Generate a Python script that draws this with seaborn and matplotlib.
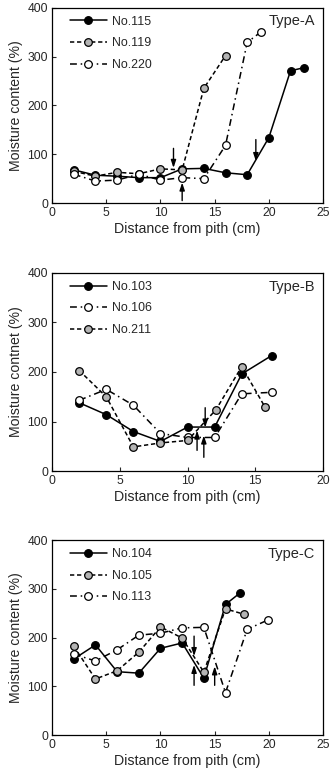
import numpy as np
import pandas as pd
import matplotlib
matplotlib.use("Agg")
import matplotlib.pyplot as plt
import seaborn as sns

# ---------------- data ----------------
# Type-A
a115_x = [2, 4, 6, 8, 10, 12, 14, 16, 18, 20, 22, 23.2]
a115_y = [68, 57, 55, 52, 52, 70, 71, 62, 58, 134, 271, 277]
a119_x = [2, 4, 6, 8, 10, 12, 14, 16]
a119_y = [65, 55, 63, 60, 70, 68, 235, 302]
a220_x = [2, 4, 6, 8, 10, 12, 14, 16, 18, 19.3]
a220_y = [59, 45, 47, 59, 47, 52, 50, 118, 329, 351]

# Type-B
b103_x = [2, 4, 6, 8, 10, 12, 14, 16.2]
b103_y = [138, 114, 80, 60, 89, 89, 196, 233]
b106_x = [2, 4, 6, 8, 10, 12, 14, 16.2]
b106_y = [143, 165, 133, 76, 68, 68, 156, 159]
b211_x = [2, 4, 6, 8, 10, 12.1, 14, 15.7]
b211_y = [203, 150, 49, 57, 62, 124, 211, 130]

# Type-C
c104_x = [2, 4, 6, 8, 10, 12, 14, 16, 17.3]
c104_y = [156, 185, 130, 127, 178, 189, 117, 268, 291]
c105_x = [2, 4, 6, 8, 10, 12, 14, 16, 17.7]
c105_y = [182, 115, 132, 170, 222, 199, 129, 259, 248]
c113_x = [2, 4, 6, 8, 10, 12, 14, 16, 18, 19.9]
c113_y = [166, 152, 175, 205, 209, 220, 221, 87, 217, 236]

# arrows: (x, y_start, y_end)
arrows_a = [(11.2, 112, 72), (12.0, 5, 42), (18.8, 130, 86)]
arrows_b = [(11.3, 128, 88), (10.7, 42, 82), (11.2, 28, 72)]
arrows_c = [(13.1, 203, 162), (13.1, 102, 144), (15.0, 102, 141)]

panels = [
    dict(label="Type-A", ylabel="Moisture content (%)", xmax=25,
         series=[("No.115", a115_x, a115_y, "solid", "black"),
                 ("No.119", a119_x, a119_y, "dash", "#b4b4b4"),
                 ("No.220", a220_x, a220_y, "dashdot", "white")],
         arrows=arrows_a, rect=[0.157, 0.738, 0.816, 0.252]),
    dict(label="Type-B", ylabel="Moisture contnet (%)", xmax=20,
         series=[("No.103", b103_x, b103_y, "solid", "black"),
                 ("No.106", b106_x, b106_y, "dashdot", "white"),
                 ("No.211", b211_x, b211_y, "dash", "#b4b4b4")],
         arrows=arrows_b, rect=[0.157, 0.392, 0.816, 0.256]),
    dict(label="Type-C", ylabel="Moisture content (%)", xmax=25,
         series=[("No.104", c104_x, c104_y, "solid", "black"),
                 ("No.105", c105_x, c105_y, "dash", "#b4b4b4"),
                 ("No.113", c113_x, c113_y, "dashdot", "white")],
         arrows=arrows_c, rect=[0.157, 0.0516, 0.816, 0.2514]),
]

sns.set_style("ticks")
plt.rcParams["font.family"] = ["Liberation Sans", "DejaVu Sans"]

dash_map = {"solid": (None, None), "dash": (0, (2.8, 1.8)), "dashdot": (0, (4.5, 2.5, 1.0, 2.5))}

fig = plt.figure(figsize=(3.32, 7.75), dpi=100)

for p in panels:
    ax = fig.add_axes(p["rect"])
    for name, xs, ys, ls, fc in p["series"]:
        df = pd.DataFrame({"x": xs, "y": ys})
        sns.lineplot(data=df, x="x", y="y", ax=ax, sort=False, color="black",
                     linewidth=1.1, marker="o", markersize=5.5,
                     markerfacecolor=fc, markeredgecolor="black",
                     markeredgewidth=0.9, legend=False)
        line = ax.lines[-1]
        line.set_label(name)
        if ls == "solid":
            line.set_linestyle("-")
        else:
            line.set_linestyle(dash_map[ls])
    for (x0, y0, y1) in p["arrows"]:
        ax.annotate("", xy=(x0, y1), xytext=(x0, y0),
                    arrowprops=dict(arrowstyle="-|>,head_length=0.45,head_width=0.15",
                                    color="black", lw=1.0, shrinkA=0, shrinkB=0))
    ax.set_xlim(0, p["xmax"])
    ax.set_ylim(0, 400)
    ax.set_xticks(np.arange(0, p["xmax"] + 1, 5))
    ax.set_yticks([0, 100, 200, 300, 400])
    ax.set_xlabel("Distance from pith (cm)", fontsize=10.2, labelpad=2)
    ax.set_ylabel(p["ylabel"], fontsize=10.2, labelpad=3)
    ax.tick_params(direction="in", length=3, width=0.8, labelsize=8.7, pad=3)
    for s in ax.spines.values():
        s.set_visible(True)
        s.set_linewidth(0.9)
        s.set_color("black")
    ax.text(0.97, 0.93, p["label"], transform=ax.transAxes, ha="right", va="center",
            fontsize=10.5)
    ax.legend(handles=list(ax.lines), loc="upper left", bbox_to_anchor=(0.035, 1.0),
              frameon=False, fontsize=8.9, handlelength=3.0, handletextpad=0.4,
              labelspacing=0.78, borderaxespad=0.25)

fig.savefig("out.png", dpi=100)
